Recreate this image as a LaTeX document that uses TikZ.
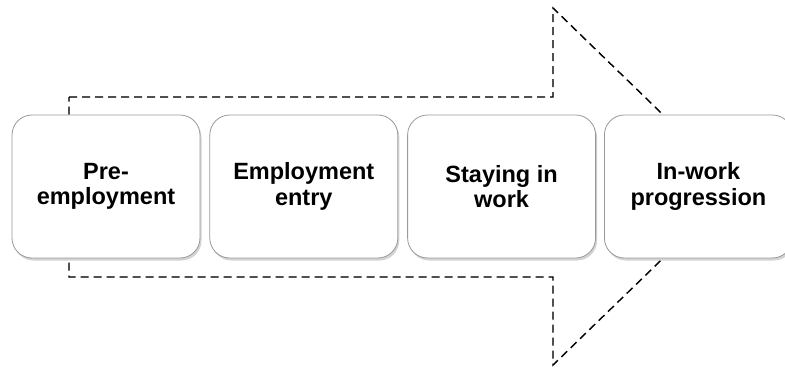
\documentclass[tikz,border=0pt]{standalone}
\usepackage{fontspec}
\setmainfont{Liberation Sans}
\usetikzlibrary{positioning,shadows}

\begin{document}
\begin{tikzpicture}[
    x=1pt, y=-1pt,
    stage/.style={draw=gray!80, line width=0.8pt, fill=white, rounded corners=20pt,
        minimum width=188pt, minimum height=143pt, inner sep=0pt, align=center,
        font=\fontsize{23.5}{25.5}\selectfont\bfseries,
        drop shadow={opacity=0.35, shadow xshift=1.5pt, shadow yshift=-2.5pt}},
    flow/.style={line width=1.4pt, dash pattern=on 8pt off 5pt}
]
\useasboundingbox (0,0) rectangle (785,372);

% dashed arrow behind the stages
\coordinate (tl) at (69,97);
\coordinate (sh) at (553,97);
\coordinate (ht) at (553,8);
\coordinate (tip) at (737,186.5);
\coordinate (hb) at (553,365);
\coordinate (sl) at (553,277);
\coordinate (bl) at (69,277);
\draw[flow, gray, opacity=0.3, xshift=1pt, yshift=-1.5pt]
    (tl) -- (sh) -- (ht) -- (tip) -- (hb) -- (sl) -- (bl) -- cycle;
\draw[flow] (tl) -- (sh) -- (ht) -- (tip) -- (hb) -- (sl) -- (bl) -- cycle;

% stages
\node[stage] (pre) at (106,186.5) {Pre-\\employment};
\node[stage, right=9pt of pre] (entry) {Employment\\entry};
\node[stage, right=9pt of entry] (stay) {Staying in\\work};
\node[stage, right=8pt of stay] (prog) {In-work\\progression};
\end{tikzpicture}
\end{document}
